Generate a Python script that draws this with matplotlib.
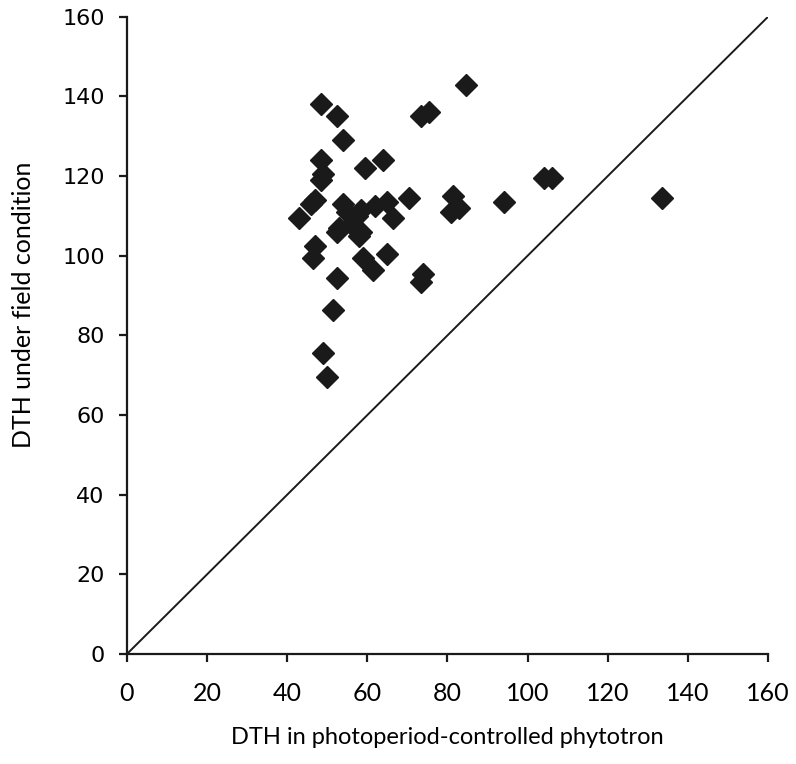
import matplotlib
matplotlib.use("Agg")
import matplotlib.pyplot as plt

# DTH values
phytotron_dth = [84.5, 48.5, 52.5, 73.5, 75.5, 54, 48.5, 64, 59.5, 49, 48.5,
                 47, 46, 43, 54, 55, 58.5, 62, 65, 70.5, 66.5, 52.5, 53, 57.5,
                 58.5, 58, 56, 47, 46.5, 59, 65, 61.5, 52.5, 74, 73.5, 51.5,
                 49, 50, 81.5, 81, 83, 94, 104, 106, 133.5]
field_dth = [143, 138, 135, 135, 136, 129, 124, 124, 122, 120.5, 119,
             114, 113, 109.5, 113, 111, 111.5, 112.5, 113.5, 114.5, 109.5, 106, 107, 110,
             106, 105, 108, 102.5, 99.5, 99.5, 100.5, 96.5, 94.5, 95.5, 93.5, 86.5,
             75.5, 69.5, 115, 111, 112, 113.5, 119.5, 119.5, 114.5]
ticks = [0, 20, 40, 60, 80, 100, 120, 140, 160]

fig = plt.figure(figsize=(7.96, 7.64), dpi=100)
ax = fig.add_axes([0.1595, 0.144, 0.8053, 0.834])

# 1:1 reference line
ax.plot([0, 160], [0, 160], color='#1a1a1a', lw=1.4, zorder=1)
ax.plot(phytotron_dth, field_dth, linestyle='none', marker='D', ms=11,
        color='#1a1a1a', mec='#1a1a1a', zorder=2)

ax.set_xlim(0, 160)
ax.set_ylim(0, 160)
ax.set_xticks(ticks)
ax.set_yticks(ticks)
for s in ['top', 'right']:
    ax.spines[s].set_visible(False)
for s in ['left', 'bottom']:
    ax.spines[s].set_linewidth(1.6)
    ax.spines[s].set_color('#1a1a1a')

ax.tick_params(axis='both', direction='out', length=6, width=1.6, color='#1a1a1a')
ax.tick_params(axis='x', pad=14)
ax.tick_params(axis='y', pad=10)
for lab in ax.get_xticklabels():
    lab.set_fontfamily('Lato')
    lab.set_fontsize(18)
for lab in ax.get_yticklabels():
    lab.set_fontfamily('DejaVu Sans')
    lab.set_fontsize(16)

ax.set_xlabel('DTH in photoperiod-controlled phytotron', fontfamily='Lato',
              fontsize=17, labelpad=16)
ax.set_ylabel('DTH under field condition', fontfamily='Lato', fontsize=18)
ax.yaxis.set_label_coords(-0.143, 0.548)

plt.savefig('out.png', dpi=100)
plt.close()
